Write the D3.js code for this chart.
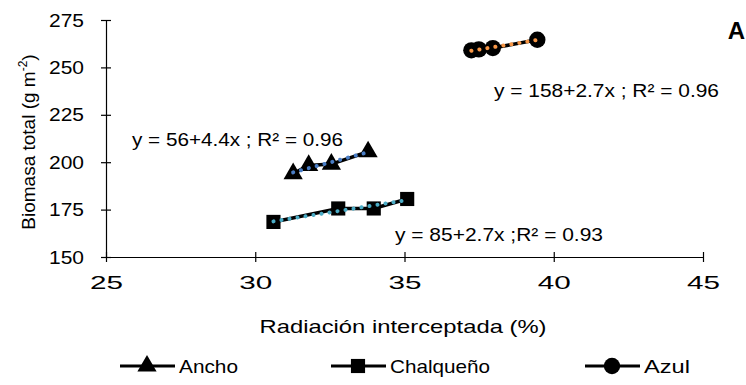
<!DOCTYPE html>
<html><head><meta charset="utf-8">
<script src="https://cdn.jsdelivr.net/npm/d3@7"></script>
<style>body{margin:0;background:#fff}svg{display:block}text{font-family:"Liberation Sans",Arial,sans-serif;fill:#000}</style>
</head><body><svg id="c" width="746" height="385"></svg>
<script>
const seriesNames = ["Ancho", "Chalqueño", "Azul"];
const anchoX = [31.27, 31.79, 32.55, 33.78];
const anchoY = [194.0, 198.3, 199.0, 205.5];
const chalX = [30.61, 32.78, 33.97, 35.09];
const chalY = [168.5, 175.6, 175.6, 180.6];
const azulX = [37.24, 37.49, 37.96, 39.45];
const azulY = [259.0, 259.5, 260.2, 264.6];
const equations = ["y = 56+4.4x ; R² = 0.96", "y = 85+2.7x ;R² = 0.93", "y = 158+2.7x ; R² = 0.96"];
const xTicks = [25, 30, 35, 40, 45];
const yTicks = [150, 175, 200, 225, 250, 275];
const trendColors = ["#4A7EC6", "#4BACC6", "#F79646"];
const symbols = [d3.symbolTriangle, d3.symbolSquare, d3.symbolCircle];

const svg = d3.select("#c");
const x = d3.scaleLinear().domain([25, 45]).range([106, 703]);
const y = d3.scaleLinear().domain([150, 275]).range([257, 20]);
const FF = "Liberation Sans, Arial, sans-serif";

// axes
const gx = svg.append("g").attr("transform", "translate(0,257)")
  .call(d3.axisBottom(x).tickValues(xTicks).tickSizeOuter(0).tickSizeInner(5).tickFormat(d3.format("d")));
gx.selectAll(".tick line").attr("y1", -5).attr("y2", 5);
gx.selectAll(".tick text").attr("y", 19).attr("dy", "0.71em").style("font-size", "19px").style("font-family", FF)
  .attr("textLength", 33).attr("lengthAdjust", "spacingAndGlyphs");
const gy = svg.append("g").attr("transform", "translate(106,0)")
  .call(d3.axisLeft(y).tickValues(yTicks).tickSizeOuter(0).tickSizeInner(5).tickFormat(d3.format("d")));
gy.selectAll(".tick line").attr("x1", -5).attr("x2", 5);
gy.selectAll(".tick text").attr("x", -22).style("font-size", "19px").style("font-family", FF)
  .attr("textLength", 35).attr("lengthAdjust", "spacingAndGlyphs");
svg.selectAll(".domain, .tick line").attr("stroke", "#000").attr("stroke-width", 1.2);

// titles
svg.append("text").attr("x", 403).attr("y", 333).attr("text-anchor", "middle").style("font-size", "19px")
  .attr("textLength", 287).attr("lengthAdjust", "spacingAndGlyphs").text("Radiación interceptada (%)");
const yt = svg.append("text").attr("transform", "translate(35,142) rotate(-90)").attr("text-anchor", "middle").style("font-size", "19px");
yt.append("tspan").text("Biomasa total (g m");
yt.append("tspan").attr("dy", -8).style("font-size", "12px").text("-2");
yt.append("tspan").attr("dy", 8).text(")");
svg.append("text").attr("x", 745).attr("y", 39).attr("text-anchor", "end").style("font-size", "24px").style("font-weight", "bold").text("A");

const data = [
  {xs: anchoX, ys: anchoY},
  {xs: chalX, ys: chalY},
  {xs: azulX, ys: azulY}
];
const symSize = [160, 200, 210];
const line = d3.line().x(d => x(d[0])).y(d => y(d[1]));

data.forEach((s, i) => {
  const pts = s.xs.map((v, j) => [v, s.ys[j]]);
  svg.append("path").attr("d", line(pts)).attr("fill", "none").attr("stroke", "#000").attr("stroke-width", 3.5);
  pts.forEach(p => {
    svg.append("path").attr("d", d3.symbol(symbols[i], symSize[i])())
      .attr("transform", `translate(${x(p[0])},${y(p[1])})`).attr("fill", "#000");
  });
  // least-squares trend line
  const mx = d3.mean(s.xs), my = d3.mean(s.ys);
  const b = d3.sum(s.xs.map((v, j) => (v - mx) * (s.ys[j] - my))) / d3.sum(s.xs.map(v => (v - mx) ** 2));
  const a = my - b * mx;
  const x0 = d3.min(s.xs), x1 = d3.max(s.xs);
  svg.append("path").attr("d", line([[x0, a + b * x0], [x1, a + b * x1]]))
    .attr("fill", "none").attr("stroke", trendColors[i]).attr("stroke-width", 4)
    .attr("stroke-linecap", "round").attr("stroke-dasharray", "0.1 8");
});

// equations
const eqPos = [[132, 146, 211], [395, 241, 208], [494, 97, 225]];
equations.forEach((t, i) => {
  svg.append("text").attr("x", eqPos[i][0]).attr("y", eqPos[i][1]).style("font-size", "19px")
    .attr("textLength", eqPos[i][2]).attr("lengthAdjust", "spacingAndGlyphs").text(t);
});

// legend
const legX = [120, 331, 585];
const legW = [59, 100, 46];
seriesNames.forEach((n, i) => {
  const g = svg.append("g").attr("transform", `translate(${legX[i]},366)`);
  g.append("line").attr("x1", 0).attr("x2", 55).attr("stroke", "#000").attr("stroke-width", 3);
  g.append("path").attr("d", d3.symbol(symbols[i], symSize[i])()).attr("transform", "translate(27,0)").attr("fill", "#000");
  g.append("text").attr("x", 59).attr("y", 7).style("font-size", "19px")
    .attr("textLength", legW[i]).attr("lengthAdjust", "spacingAndGlyphs").text(n);
});
</script></body></html>
